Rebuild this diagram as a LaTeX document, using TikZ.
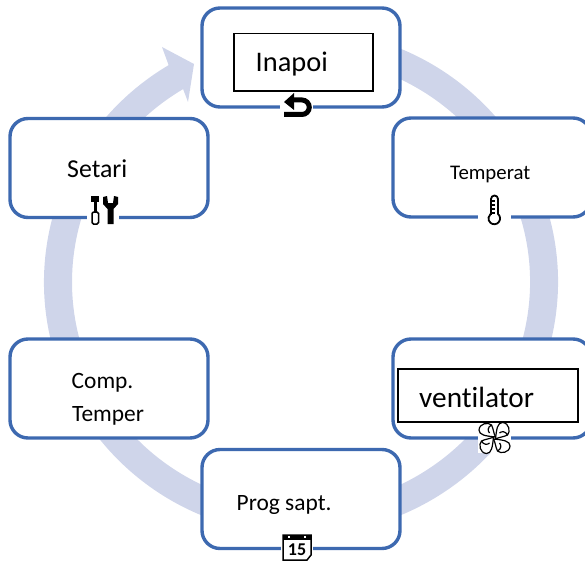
\documentclass[tikz,border=0pt]{standalone}
\usepackage{fontspec}
\setmainfont[Ligatures=NoCommon]{Carlito}
\definecolor{ringblue}{HTML}{CFD5EA}
\definecolor{boxblue}{HTML}{3D69B0}
\tikzset{
    menubox/.style={draw=boxblue, line width=3.4pt, rounded corners=18pt, fill=white, minimum width=198pt, minimum height=99pt, inner sep=0pt},
    framebox/.style={draw=black, line width=1.6pt, fill=white, inner sep=0pt},
    menutext/.style={anchor=base west, inner sep=0pt},
    iconpatch/.style={fill=white, draw=none}
}
\begin{document}
\begin{tikzpicture}[x=1pt, y=1pt, yscale=-1]
    \useasboundingbox (0,0) rectangle (585,561);
    \clip (0,0) rectangle (585,561);

    % ring with arrow head
    \fill[ringblue] (301,282) ++(280:257pt and 253pt)
        arc[start angle=280, end angle=599, x radius=257pt, y radius=253pt]
        -- (162,47) -- (194,64) -- (188,102) -- (183.1,89.1)
        arc[start angle=599, end angle=280, x radius=229pt, y radius=225pt] -- cycle;

    \node[menubox] (back) at (301,57.5) {};
    \node[menubox] (temp) at (492,167.5) {};
    \node[menubox] (fan) at (492,388.5) {};
    \node[menubox] (prog) at (301,499) {};
    \node[menubox] (comp) at (109,388.5) {};
    \node[menubox] (sett) at (109,168) {};

    \node[framebox, minimum width=139pt, minimum height=57.5pt] (backframe) at (303.5,62.3) {};
    \node[framebox, minimum width=180pt, minimum height=53pt] (fanframe) at (488,395.5) {};

    \node[menutext, font=\fontsize{28.4}{30}\selectfont] (backtext) at (255.5,72) {Inapoi};
    \node[menutext, font=\fontsize{20.8}{24}\selectfont] (temptext) at (450,180) {Temperat};
    \node[menutext, font=\fontsize{29.3}{30}\selectfont] (fantext) at (419,407) {ventilator};
    \node[menutext, font=\fontsize{23.4}{26}\selectfont] (progtext) at (236.5,510) {Prog sapt.};
    \node[menutext, font=\fontsize{23.4}{26}\selectfont] (comptext) at (71.5,388) {Comp.};
    \node[menutext, font=\fontsize{23.4}{26}\selectfont] (tempertext) at (72,421) {Temper};
    \node[menutext, font=\fontsize{25.8}{28}\selectfont] (setttext) at (67,178) {Setari};

    % back icon
    \fill[iconpatch] (280,100) rectangle (313,120);
    \fill (284,102) -- (294,93) -- (294,110) -- cycle;
    \draw[line width=5pt] (292,100) -- (302,100) arc[start angle=-90, end angle=90, radius=7.25pt] -- (284,114.5);

    % thermometer icon
    \fill[iconpatch] (478,205) rectangle (511,230);
    \draw[line width=1.8pt, fill=white] (491,214) -- (491,199) arc[start angle=180, end angle=360, radius=3.5pt] -- (498,214)
        arc[start angle=-50, end angle=230, radius=5.8pt] -- cycle;
    \foreach \y in {201,205,209,213}
        \draw[line width=1.3pt] (492,\y) -- (495,\y);

    % fan icon
    \fill[iconpatch] (478,423) rectangle (511,453);
    \foreach \a in {0,90,180,270}
        \draw[line width=1.2pt, shift={(494.5,438)}, rotate=\a] (1,-1) .. controls (-1,-5) and (-1,-9) .. (-3,-13)
            .. controls (-6,-16) and (-15,-15) .. (-15.5,-8) .. controls (-15.5,-3) and (-9,-2) .. (1,-1)
            (-3,-13) .. controls (-7,-11) and (-7,-7) .. (-5,-5);

    % calendar icon
    \fill[iconpatch] (281,533) rectangle (313,561);
    \draw[line width=1.5pt] (283,535) -- (311,535) -- (311,555) -- (307,560) -- (283,560) -- cycle;
    \fill (283,535) rectangle (311,540);
    \fill[white] (288,536) rectangle (290,538);
    \fill[white] (304,536) rectangle (306,538);
    \node[inner sep=0pt, font=\fontsize{18}{18}\selectfont\bfseries] (calday) at (297,549.5) {15};

    % tools icon
    \fill[iconpatch] (87,205) rectangle (119,226);
    \fill (91,196) rectangle (99,202);
    \fill (93.5,202) rectangle (97,212);
    \draw[line width=1.5pt, rounded corners=1.5pt, fill=white] (92,212) rectangle (98.5,224);
    \fill (103,197) -- (107,196) -- (108,203) -- (113,203) -- (114,196) -- (118,197) -- (118,204)
        -- (113.5,209) -- (113.5,224) -- (107.5,224) -- (107.5,209) -- (103,204) -- cycle;
\end{tikzpicture}
\end{document}
